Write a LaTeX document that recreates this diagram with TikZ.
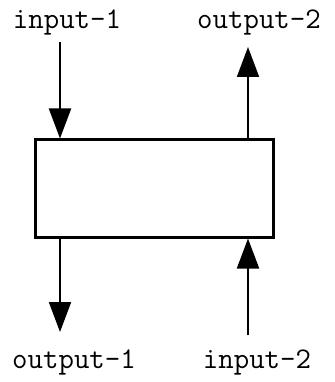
\documentclass[tikz,border=0pt]{standalone}
\usetikzlibrary{arrows.meta}
\begin{document}
\begin{tikzpicture}[x=1pt,y=-1pt,
  lbl/.style={font=\ttfamily\fontsize{30}{34}\selectfont, inner sep=0pt, anchor=base},
  arr/.style={line width=2pt, -{Triangle[width=22pt,length=30pt]}},
  blk/.style={draw, line width=3pt, minimum width=238pt, minimum height=97pt, inner sep=0pt}]
\useasboundingbox (0,0) rectangle (334,382);
\node[blk] (box) at (154,188.5) {};
\node[lbl] (in1) at (67,29) {input-1};
\node[lbl] (out2) at (259,29) {output-2};
\node[lbl] (out1) at (74,368) {output-1};
\node[lbl] (in2) at (257,368) {input-2};
\coordinate (a1) at (60,42);
\coordinate (a2) at (248,47);
\coordinate (a3) at (60,332);
\coordinate (a4) at (248,335);
\draw[arr] (a1) -- (a1 |- box.north);
\draw[arr] (a2 |- box.north) -- (a2);
\draw[arr] (a3 |- box.south) -- (a3);
\draw[arr] (a4) -- (a4 |- box.south);
\end{tikzpicture}
\end{document}
